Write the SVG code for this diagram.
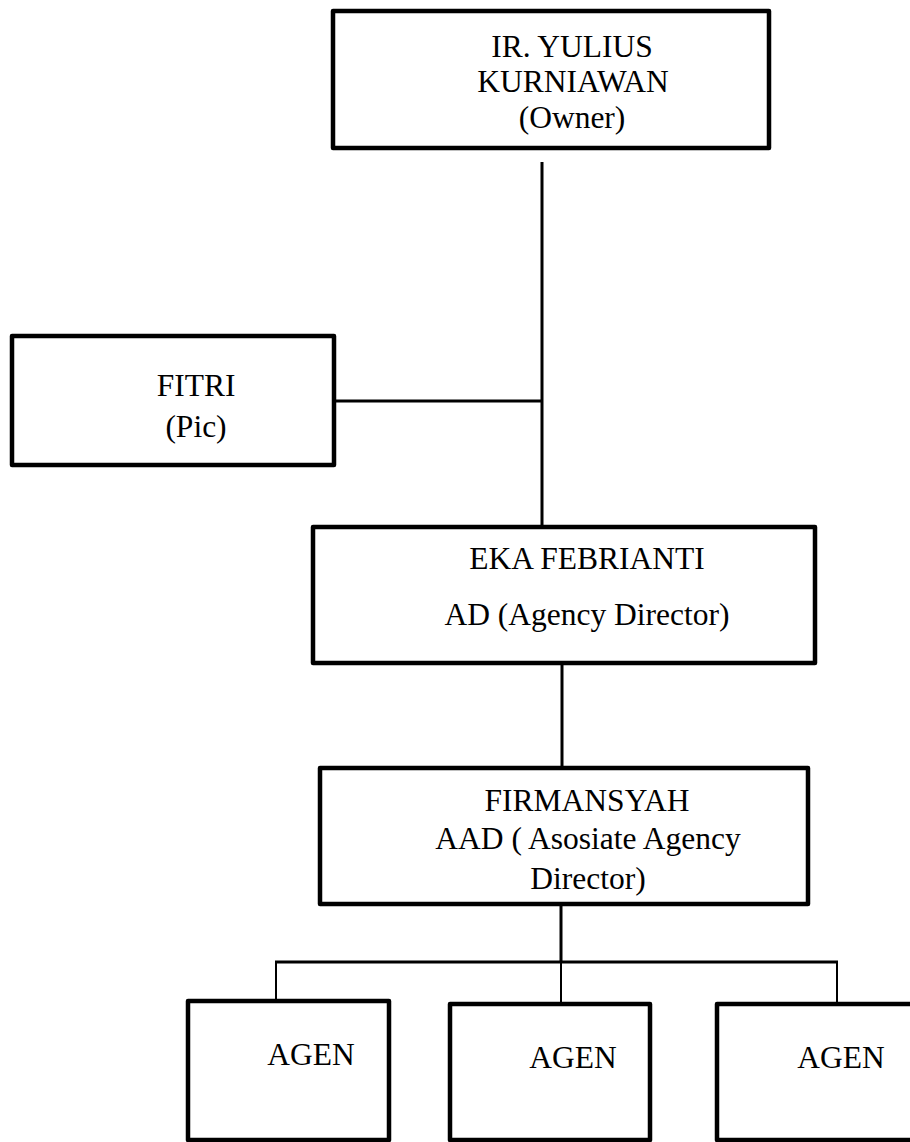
<svg xmlns="http://www.w3.org/2000/svg" width="910" height="1142" viewBox="0 0 910 1142">
<style>
.box{fill:#fff;stroke:#000;stroke-width:4.5;stroke-linejoin:round}
.ln{stroke:#000;stroke-width:3;fill:none}
.thin{stroke:#000;stroke-width:2;fill:none}
text{font-family:"Liberation Serif","Times New Roman",serif;font-size:31.5px;fill:#000;text-anchor:middle}
</style>
<rect width="910" height="1142" fill="#fff"/>
<g id="connectors">
<line class="ln" x1="542" y1="162" x2="542" y2="527"/>
<line class="ln" x1="334" y1="401" x2="542" y2="401"/>
<line class="ln" x1="562" y1="663" x2="562" y2="768"/>
<line class="ln" x1="561" y1="904" x2="561" y2="962"/>
<line class="ln" x1="275" y1="962" x2="838" y2="962"/>
<line class="thin" x1="276" y1="962" x2="276" y2="1001"/>
<line class="thin" x1="561" y1="962" x2="561" y2="1004"/>
<line class="thin" x1="837" y1="962" x2="837" y2="1004"/>
</g>
<g id="owner">
<rect class="box" x="333" y="11" width="436" height="137"/>
<text x="572" y="57">IR. YULIUS</text>
<text x="573" y="92">KURNIAWAN</text>
<text x="572" y="128">(Owner)</text>
</g>
<g id="fitri">
<rect class="box" x="12" y="336" width="322" height="129"/>
<text x="196" y="396">FITRI</text>
<text x="196" y="437">(Pic)</text>
</g>
<g id="eka">
<rect class="box" x="313" y="527" width="502" height="136"/>
<text x="587" y="569">EKA FEBRIANTI</text>
<text x="587" y="625">AD (Agency Director)</text>
</g>
<g id="firmansyah">
<rect class="box" x="320" y="768" width="488" height="136"/>
<text x="587" y="811">FIRMANSYAH</text>
<text x="588" y="849">AAD ( Asosiate Agency</text>
<text x="588" y="889">Director)</text>
</g>
<g id="agen1">
<rect class="box" x="188" y="1001" width="201" height="139"/>
<text x="311" y="1065">AGEN</text>
</g>
<g id="agen2">
<rect class="box" x="450" y="1004" width="200" height="136"/>
<text x="573" y="1068">AGEN</text>
</g>
<g id="agen3">
<rect class="box" x="717" y="1004" width="200" height="136"/>
<text x="841" y="1068">AGEN</text>
</g>
</svg>
